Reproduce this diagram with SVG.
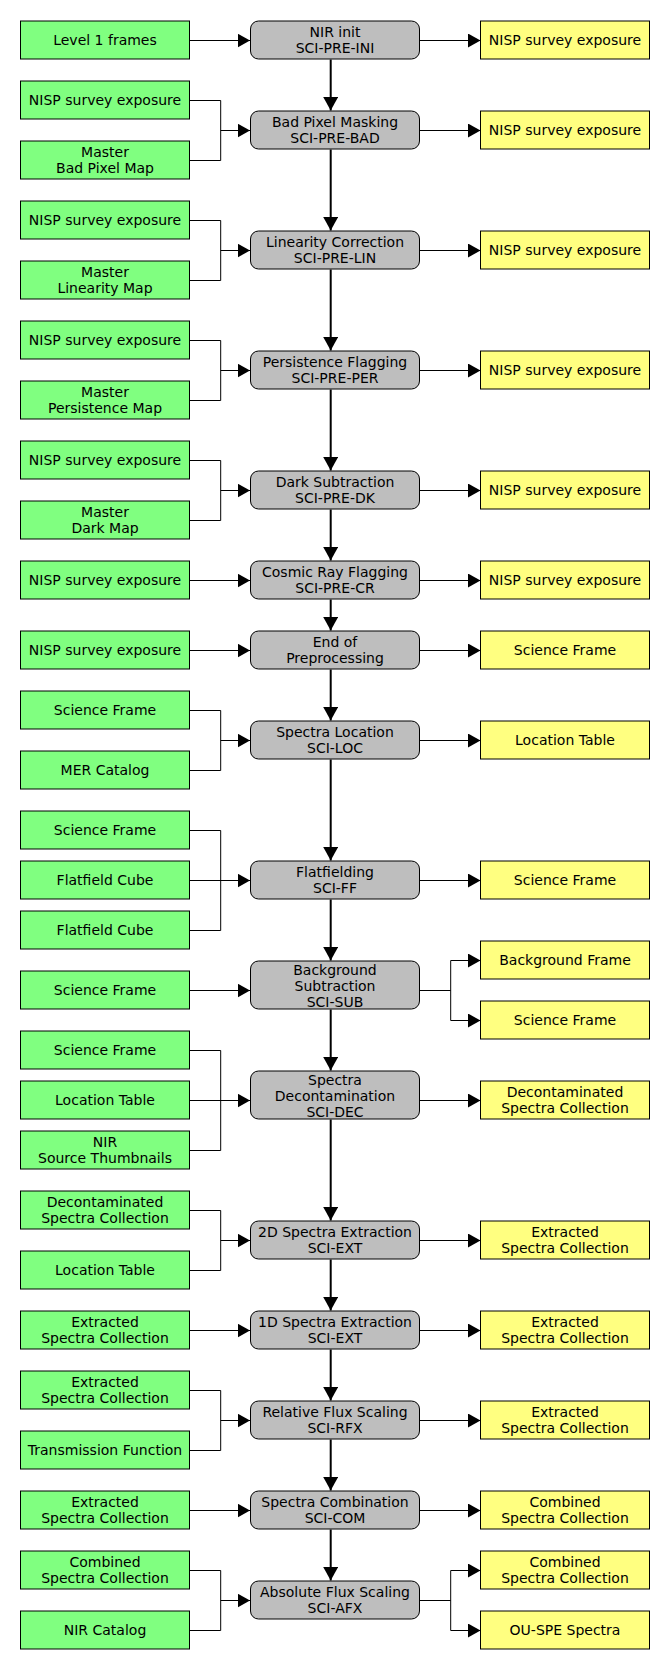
<svg xmlns="http://www.w3.org/2000/svg" width="670" height="1670" viewBox="0 0 670 1670">
<style>
.in{fill:#80ff80;stroke:#000;stroke-width:1}
.pr{fill:#bebebe;stroke:#000;stroke-width:1}
.out{fill:#ffff80;stroke:#000;stroke-width:1}
text{font-family:"DejaVu Sans","Liberation Sans",sans-serif;font-size:14px;text-anchor:middle;fill:#000}
.c{fill:none;stroke:#000;stroke-width:1}
.a{fill:none;stroke:#000;stroke-width:1;marker-end:url(#ah)}
.v{fill:none;stroke:#000;stroke-width:2;marker-end:url(#av)}
</style>
<defs>
<marker id="ah" markerUnits="userSpaceOnUse" markerWidth="13" markerHeight="14" refX="12.5" refY="7" orient="auto">
<path d="M0,0 L12.5,7 L0,14 z" fill="#000"/>
</marker>
<marker id="av" markerUnits="userSpaceOnUse" markerWidth="14" markerHeight="15" refX="13.5" refY="7.5" orient="auto">
<path d="M0,0 L13.5,7.5 L0,15 z" fill="#000"/>
</marker>
</defs>
<rect width="670" height="1670" fill="#fff"/>
<g id="connectors">
<path class="v" d="M330.7,59.5 V110.5"/>
<path class="v" d="M330.7,149.5 V230.5"/>
<path class="v" d="M330.7,269.5 V350.5"/>
<path class="v" d="M330.7,389.5 V470.5"/>
<path class="v" d="M330.7,509.5 V560.5"/>
<path class="v" d="M330.7,599.5 V630.5"/>
<path class="v" d="M330.7,669.5 V720.5"/>
<path class="v" d="M330.7,759.5 V860.5"/>
<path class="v" d="M330.7,899.5 V960.5"/>
<path class="v" d="M330.7,1009.5 V1070.5"/>
<path class="v" d="M330.7,1119.5 V1220.5"/>
<path class="v" d="M330.7,1259.5 V1310.5"/>
<path class="v" d="M330.7,1349.5 V1400.5"/>
<path class="v" d="M330.7,1439.5 V1490.5"/>
<path class="v" d="M330.7,1529.5 V1580.5"/>
<path class="a" d="M189.5,40.5 H250"/>
<path class="c" d="M189.5,100.5 H220.7 V160.5 H189.5"/><path class="a" d="M220.7,130.5 H250"/>
<path class="c" d="M189.5,220.5 H220.7 V280.5 H189.5"/><path class="a" d="M220.7,250.5 H250"/>
<path class="c" d="M189.5,340.5 H220.7 V400.5 H189.5"/><path class="a" d="M220.7,370.5 H250"/>
<path class="c" d="M189.5,460.5 H220.7 V520.5 H189.5"/><path class="a" d="M220.7,490.5 H250"/>
<path class="a" d="M189.5,580.5 H250"/>
<path class="a" d="M189.5,650.5 H250"/>
<path class="c" d="M189.5,710.5 H220.7 V770.5 H189.5"/><path class="a" d="M220.7,740.5 H250"/>
<path class="c" d="M189.5,830.5 H220.7 V930.5 H189.5"/><path class="a" d="M189.5,880.5 H250"/>
<path class="a" d="M189.5,990.5 H250"/>
<path class="c" d="M189.5,1050.5 H220.7 V1150.5 H189.5"/><path class="a" d="M189.5,1100.5 H250"/>
<path class="c" d="M189.5,1210.5 H220.7 V1270.5 H189.5"/><path class="a" d="M220.7,1240.5 H250"/>
<path class="a" d="M189.5,1330.5 H250"/>
<path class="c" d="M189.5,1390.5 H220.7 V1450.5 H189.5"/><path class="a" d="M220.7,1420.5 H250"/>
<path class="a" d="M189.5,1510.5 H250"/>
<path class="c" d="M189.5,1570.5 H220.7 V1630.5 H189.5"/><path class="a" d="M220.7,1600.5 H250"/>
<path class="a" d="M419.5,40.5 H480.5"/>
<path class="a" d="M419.5,130.5 H480.5"/>
<path class="a" d="M419.5,250.5 H480.5"/>
<path class="a" d="M419.5,370.5 H480.5"/>
<path class="a" d="M419.5,490.5 H480.5"/>
<path class="a" d="M419.5,580.5 H480.5"/>
<path class="a" d="M419.5,650.5 H480.5"/>
<path class="a" d="M419.5,740.5 H480.5"/>
<path class="a" d="M419.5,880.5 H480.5"/>
<path class="c" d="M419.5,990.5 H450.7 M450.7,960.5 V1020.5"/>
<path class="a" d="M450.7,960.5 H480.5"/><path class="a" d="M450.7,1020.5 H480.5"/>
<path class="a" d="M419.5,1100.5 H480.5"/>
<path class="a" d="M419.5,1240.5 H480.5"/>
<path class="a" d="M419.5,1330.5 H480.5"/>
<path class="a" d="M419.5,1420.5 H480.5"/>
<path class="a" d="M419.5,1510.5 H480.5"/>
<path class="c" d="M419.5,1600.5 H450.7 M450.7,1570.5 V1630.5"/>
<path class="a" d="M450.7,1570.5 H480.5"/><path class="a" d="M450.7,1630.5 H480.5"/>
</g>

<g id="in1"><rect class="in" x="20.5" y="21" width="169" height="38"/><text x="105" y="45">Level 1 frames</text></g>
<g id="in2a"><rect class="in" x="20.5" y="81" width="169" height="38"/><text x="105" y="105">NISP survey exposure</text></g>
<g id="in2b"><rect class="in" x="20.5" y="141" width="169" height="38"/><text x="105" y="157">Master</text><text x="105" y="173">Bad Pixel Map</text></g>
<g id="in3a"><rect class="in" x="20.5" y="201" width="169" height="38"/><text x="105" y="225">NISP survey exposure</text></g>
<g id="in3b"><rect class="in" x="20.5" y="261" width="169" height="38"/><text x="105" y="277">Master</text><text x="105" y="293">Linearity Map</text></g>
<g id="in4a"><rect class="in" x="20.5" y="321" width="169" height="38"/><text x="105" y="345">NISP survey exposure</text></g>
<g id="in4b"><rect class="in" x="20.5" y="381" width="169" height="38"/><text x="105" y="397">Master</text><text x="105" y="413">Persistence Map</text></g>
<g id="in5a"><rect class="in" x="20.5" y="441" width="169" height="38"/><text x="105" y="465">NISP survey exposure</text></g>
<g id="in5b"><rect class="in" x="20.5" y="501" width="169" height="38"/><text x="105" y="517">Master</text><text x="105" y="533">Dark Map</text></g>
<g id="in6"><rect class="in" x="20.5" y="561" width="169" height="38"/><text x="105" y="585">NISP survey exposure</text></g>
<g id="in7"><rect class="in" x="20.5" y="631" width="169" height="38"/><text x="105" y="655">NISP survey exposure</text></g>
<g id="in8a"><rect class="in" x="20.5" y="691" width="169" height="38"/><text x="105" y="715">Science Frame</text></g>
<g id="in8b"><rect class="in" x="20.5" y="751" width="169" height="38"/><text x="105" y="775">MER Catalog</text></g>
<g id="in9a"><rect class="in" x="20.5" y="811" width="169" height="38"/><text x="105" y="835">Science Frame</text></g>
<g id="in9b"><rect class="in" x="20.5" y="861" width="169" height="38"/><text x="105" y="885">Flatfield Cube</text></g>
<g id="in9c"><rect class="in" x="20.5" y="911" width="169" height="38"/><text x="105" y="935">Flatfield Cube</text></g>
<g id="in10"><rect class="in" x="20.5" y="971" width="169" height="38"/><text x="105" y="995">Science Frame</text></g>
<g id="in11a"><rect class="in" x="20.5" y="1031" width="169" height="38"/><text x="105" y="1055">Science Frame</text></g>
<g id="in11b"><rect class="in" x="20.5" y="1081" width="169" height="38"/><text x="105" y="1105">Location Table</text></g>
<g id="in11c"><rect class="in" x="20.5" y="1131" width="169" height="38"/><text x="105" y="1147">NIR</text><text x="105" y="1163">Source Thumbnails</text></g>
<g id="in12a"><rect class="in" x="20.5" y="1191" width="169" height="38"/><text x="105" y="1207">Decontaminated</text><text x="105" y="1223">Spectra Collection</text></g>
<g id="in12b"><rect class="in" x="20.5" y="1251" width="169" height="38"/><text x="105" y="1275">Location Table</text></g>
<g id="in13"><rect class="in" x="20.5" y="1311" width="169" height="38"/><text x="105" y="1327">Extracted</text><text x="105" y="1343">Spectra Collection</text></g>
<g id="in14a"><rect class="in" x="20.5" y="1371" width="169" height="38"/><text x="105" y="1387">Extracted</text><text x="105" y="1403">Spectra Collection</text></g>
<g id="in14b"><rect class="in" x="20.5" y="1431" width="169" height="38"/><text x="105" y="1455">Transmission Function</text></g>
<g id="in15"><rect class="in" x="20.5" y="1491" width="169" height="38"/><text x="105" y="1507">Extracted</text><text x="105" y="1523">Spectra Collection</text></g>
<g id="in16a"><rect class="in" x="20.5" y="1551" width="169" height="38"/><text x="105" y="1567">Combined</text><text x="105" y="1583">Spectra Collection</text></g>
<g id="in16b"><rect class="in" x="20.5" y="1611" width="169" height="38"/><text x="105" y="1635">NIR Catalog</text></g>

<g id="p1"><rect class="pr" x="250.5" y="21" width="169" height="38" rx="8"/><text x="335" y="37">NIR init</text><text x="335" y="53">SCI-PRE-INI</text></g>
<g id="p2"><rect class="pr" x="250.5" y="111" width="169" height="38" rx="8"/><text x="335" y="127">Bad Pixel Masking</text><text x="335" y="143">SCI-PRE-BAD</text></g>
<g id="p3"><rect class="pr" x="250.5" y="231" width="169" height="38" rx="8"/><text x="335" y="247">Linearity Correction</text><text x="335" y="263">SCI-PRE-LIN</text></g>
<g id="p4"><rect class="pr" x="250.5" y="351" width="169" height="38" rx="8"/><text x="335" y="367">Persistence Flagging</text><text x="335" y="383">SCI-PRE-PER</text></g>
<g id="p5"><rect class="pr" x="250.5" y="471" width="169" height="38" rx="8"/><text x="335" y="487">Dark Subtraction</text><text x="335" y="503">SCI-PRE-DK</text></g>
<g id="p6"><rect class="pr" x="250.5" y="561" width="169" height="38" rx="8"/><text x="335" y="577">Cosmic Ray Flagging</text><text x="335" y="593">SCI-PRE-CR</text></g>
<g id="p7"><rect class="pr" x="250.5" y="631" width="169" height="38" rx="8"/><text x="335" y="647">End of</text><text x="335" y="663">Preprocessing</text></g>
<g id="p8"><rect class="pr" x="250.5" y="721" width="169" height="38" rx="8"/><text x="335" y="737">Spectra Location</text><text x="335" y="753">SCI-LOC</text></g>
<g id="p9"><rect class="pr" x="250.5" y="861" width="169" height="38" rx="8"/><text x="335" y="877">Flatfielding</text><text x="335" y="893">SCI-FF</text></g>
<g id="p10"><rect class="pr" x="250.5" y="961" width="169" height="48" rx="8"/><text x="335" y="974.5">Background</text><text x="335" y="990.5">Subtraction</text><text x="335" y="1006.5">SCI-SUB</text></g>
<g id="p11"><rect class="pr" x="250.5" y="1071" width="169" height="48" rx="8"/><text x="335" y="1084.5">Spectra</text><text x="335" y="1100.5">Decontamination</text><text x="335" y="1116.5">SCI-DEC</text></g>
<g id="p12"><rect class="pr" x="250.5" y="1221" width="169" height="38" rx="8"/><text x="335" y="1237">2D Spectra Extraction</text><text x="335" y="1253">SCI-EXT</text></g>
<g id="p13"><rect class="pr" x="250.5" y="1311" width="169" height="38" rx="8"/><text x="335" y="1327">1D Spectra Extraction</text><text x="335" y="1343">SCI-EXT</text></g>
<g id="p14"><rect class="pr" x="250.5" y="1401" width="169" height="38" rx="8"/><text x="335" y="1417">Relative Flux Scaling</text><text x="335" y="1433">SCI-RFX</text></g>
<g id="p15"><rect class="pr" x="250.5" y="1491" width="169" height="38" rx="8"/><text x="335" y="1507">Spectra Combination</text><text x="335" y="1523">SCI-COM</text></g>
<g id="p16"><rect class="pr" x="250.5" y="1581" width="169" height="38" rx="8"/><text x="335" y="1597">Absolute Flux Scaling</text><text x="335" y="1613">SCI-AFX</text></g>

<g id="out1"><rect class="out" x="480.5" y="21" width="169" height="38"/><text x="565" y="45">NISP survey exposure</text></g>
<g id="out2"><rect class="out" x="480.5" y="111" width="169" height="38"/><text x="565" y="135">NISP survey exposure</text></g>
<g id="out3"><rect class="out" x="480.5" y="231" width="169" height="38"/><text x="565" y="255">NISP survey exposure</text></g>
<g id="out4"><rect class="out" x="480.5" y="351" width="169" height="38"/><text x="565" y="375">NISP survey exposure</text></g>
<g id="out5"><rect class="out" x="480.5" y="471" width="169" height="38"/><text x="565" y="495">NISP survey exposure</text></g>
<g id="out6"><rect class="out" x="480.5" y="561" width="169" height="38"/><text x="565" y="585">NISP survey exposure</text></g>
<g id="out7"><rect class="out" x="480.5" y="631" width="169" height="38"/><text x="565" y="655">Science Frame</text></g>
<g id="out8"><rect class="out" x="480.5" y="721" width="169" height="38"/><text x="565" y="745">Location Table</text></g>
<g id="out9"><rect class="out" x="480.5" y="861" width="169" height="38"/><text x="565" y="885">Science Frame</text></g>
<g id="out10a"><rect class="out" x="480.5" y="941" width="169" height="38"/><text x="565" y="965">Background Frame</text></g>
<g id="out10b"><rect class="out" x="480.5" y="1001" width="169" height="38"/><text x="565" y="1025">Science Frame</text></g>
<g id="out11"><rect class="out" x="480.5" y="1081" width="169" height="38"/><text x="565" y="1097">Decontaminated</text><text x="565" y="1113">Spectra Collection</text></g>
<g id="out12"><rect class="out" x="480.5" y="1221" width="169" height="38"/><text x="565" y="1237">Extracted</text><text x="565" y="1253">Spectra Collection</text></g>
<g id="out13"><rect class="out" x="480.5" y="1311" width="169" height="38"/><text x="565" y="1327">Extracted</text><text x="565" y="1343">Spectra Collection</text></g>
<g id="out14"><rect class="out" x="480.5" y="1401" width="169" height="38"/><text x="565" y="1417">Extracted</text><text x="565" y="1433">Spectra Collection</text></g>
<g id="out15"><rect class="out" x="480.5" y="1491" width="169" height="38"/><text x="565" y="1507">Combined</text><text x="565" y="1523">Spectra Collection</text></g>
<g id="out16a"><rect class="out" x="480.5" y="1551" width="169" height="38"/><text x="565" y="1567">Combined</text><text x="565" y="1583">Spectra Collection</text></g>
<g id="out16b"><rect class="out" x="480.5" y="1611" width="169" height="38"/><text x="565" y="1635">OU-SPE Spectra</text></g>
</svg>
